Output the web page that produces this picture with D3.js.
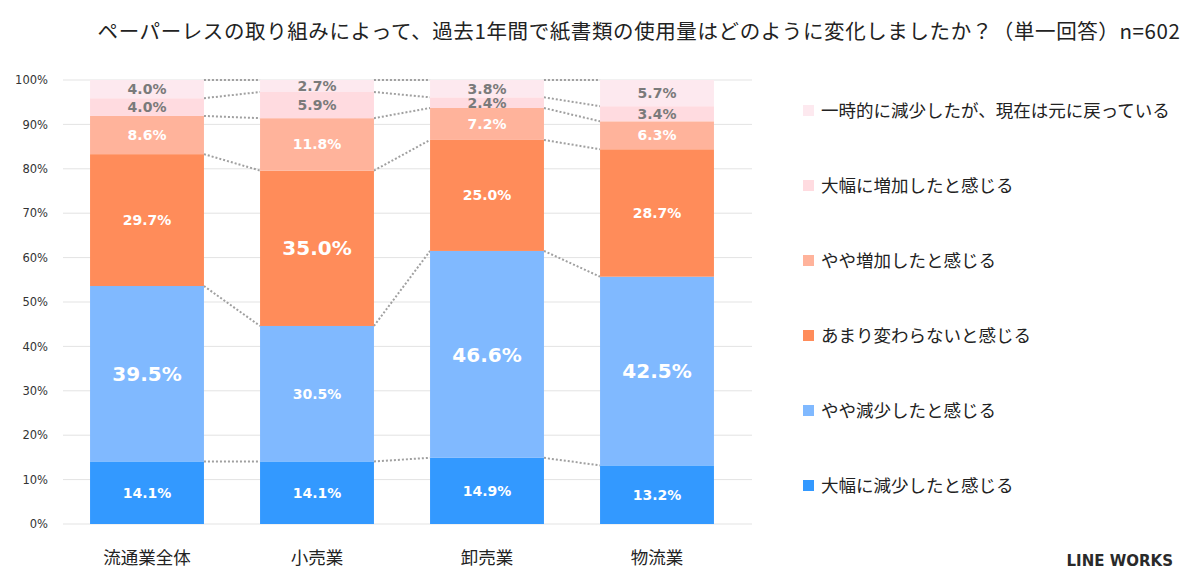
<!DOCTYPE html>
<html>
<head>
<meta charset="utf-8">
<script src="https://cdn.jsdelivr.net/npm/d3@7"></script>
<style>
	body { margin: 0; background: #fff; }
	svg { display: block; }
</style>
</head>
<body>
<div id="chart"></div>
<script>
var width = 1200,
	height = 572;

// data, bottom segment first
var categories = ["流通業全体", "小売業", "卸売業", "物流業"];
var seriesNames = [
	"大幅に減少したと感じる",
	"やや減少したと感じる",
	"あまり変わらないと感じる",
	"やや増加したと感じる",
	"大幅に増加したと感じる",
	"一時的に減少したが、現在は元に戻っている"
];
var daihabaGenshou = [14.1, 14.1, 14.9, 13.2];
var yayaGenshou = [39.5, 30.5, 46.6, 42.5];
var amariKawaranai = [29.7, 35.0, 25.0, 28.7];
var yayaZouka = [8.6, 11.8, 7.2, 6.3];
var daihabaZouka = [4.0, 5.9, 2.4, 3.4];
var ichijiteki = [4.0, 2.7, 3.8, 5.7];
var yTicks = [0, 10, 20, 30, 40, 50, 60, 70, 80, 90, 100];
var title = "ペーパーレスの取り組みによって、過去1年間で紙書類の使用量はどのように変化しましたか？（単一回答）n=602";

var colors = ["#3399ff", "#80b9ff", "#ff8c5a", "#ffb39b", "#ffdbe0", "#fde9ef"];
var values = [daihabaGenshou, yayaGenshou, amariKawaranai, yayaZouka, daihabaZouka, ichijiteki];

var jp = "'Noto Sans CJK JP', 'Noto Sans', sans-serif";
var num = "'DejaVu Sans', Verdana, sans-serif";

var svg = d3.select("#chart").append("svg")
	.attr("width", width)
	.attr("height", height);

var x = d3.scaleBand()
	.domain(categories)
	.range([62, 742])
	.paddingInner(0.33)
	.paddingOuter(0.165);

var y = d3.scaleLinear()
	.domain([0, 100])
	.range([524, 80]);

// stack: table of rows per category
var table = categories.map(function(c, i) {
	var row = { cat: c };
	seriesNames.forEach(function(s, j) { row[s] = values[j][i]; });
	return row;
});
var stacked = d3.stack().keys(seriesNames)(table);

// gridlines
svg.append("g")
	.selectAll("line")
	.data(yTicks)
	.enter().append("line")
	.attr("x1", 63)
	.attr("x2", 752)
	.attr("y1", function(d) { return y(d); })
	.attr("y2", function(d) { return y(d); })
	.attr("stroke", "#e3e3e3")
	.attr("stroke-width", 1);

// y axis labels
var yAxis = d3.axisLeft(y)
	.tickValues(yTicks)
	.tickFormat(function(d) { return d + "%"; })
	.tickSize(0)
	.tickPadding(0);
svg.append("g")
	.attr("transform", "translate(48,0)")
	.call(yAxis)
	.call(function(g) { g.select(".domain").remove(); })
	.selectAll("text")
	.attr("font-family", num)
	.attr("font-size", 11.5)
	.attr("fill", "#333");

// dotted connector lines between bars
var bw = x.bandwidth();
stacked.forEach(function(layer, j) {
	for (var i = 0; i < categories.length - 1; i++) {
		var top1 = j == stacked.length - 1 ? 100 : layer[i][1];
		var top2 = j == stacked.length - 1 ? 100 : layer[i + 1][1];
		svg.append("line")
			.attr("x1", x(categories[i]) + bw)
			.attr("x2", x(categories[i + 1]))
			.attr("y1", y(top1))
			.attr("y2", y(top2))
			.attr("stroke", "#a0a0a0")
			.attr("stroke-width", 2)
			.attr("stroke-dasharray", "2,2");
	}
});

// bars
var layers = svg.append("g")
	.selectAll("g")
	.data(stacked)
	.enter().append("g")
	.attr("fill", function(d, j) { return colors[j]; });

layers.selectAll("rect")
	.data(function(d) { return d; })
	.enter().append("rect")
	.attr("x", function(d) { return x(d.data.cat); })
	.attr("width", bw)
	.attr("y", function(d, i) {
		var top = this.parentNode.__data__.index == stacked.length - 1 ? 100 : d[1];
		return y(top);
	})
	.attr("height", function(d) {
		var top = this.parentNode.__data__.index == stacked.length - 1 ? 100 : d[1];
		return y(d[0]) - y(top);
	});

// value labels
stacked.forEach(function(layer, j) {
	layer.forEach(function(d, i) {
		var v = values[j][i];
		var maxV = d3.max(values, function(s) { return s[i]; });
		var big = v == maxV;
		var top = j == stacked.length - 1 ? 100 : d[1];
		svg.append("text")
			.attr("x", x(categories[i]) + bw / 2)
			.attr("y", (y(d[0]) + y(top)) / 2)
			.attr("dy", "0.36em")
			.attr("text-anchor", "middle")
			.attr("font-family", num)
			.attr("font-weight", "bold")
			.attr("font-size", big ? 20 : 14)
			.attr("fill", j >= 4 ? "#7a7a7a" : "#fff")
			.text(v.toFixed(1) + "%");
	});
});

// category labels
svg.append("g")
	.selectAll("text")
	.data(categories)
	.enter().append("text")
	.attr("x", function(d) { return x(d) + bw / 2; })
	.attr("y", 564)
	.attr("text-anchor", "middle")
	.attr("font-family", jp)
	.attr("font-size", 17.5)
	.attr("fill", "#222")
	.text(function(d) { return d; });

// legend, top entry first
var legendY = d3.scalePoint()
	.domain(seriesNames.slice().reverse())
	.range([111, 486]);

var legend = svg.append("g")
	.selectAll("g")
	.data(seriesNames)
	.enter().append("g")
	.attr("transform", function(d) { return "translate(803," + legendY(d) + ")"; });

legend.append("rect")
	.attr("x", 0)
	.attr("y", -6)
	.attr("width", 11)
	.attr("height", 11)
	.attr("fill", function(d, j) { return colors[j]; });

legend.append("text")
	.attr("x", 18)
	.attr("dy", "0.35em")
	.attr("font-family", jp)
	.attr("font-size", 17.5)
	.attr("fill", "#222")
	.text(function(d) { return d; });

// title
svg.append("text")
	.attr("x", 639)
	.attr("y", 39)
	.attr("text-anchor", "middle")
	.attr("font-family", jp)
	.attr("font-size", 20.5)
	.attr("letter-spacing", 0.6)
	.attr("fill", "#222")
	.text(title);

// logo
svg.append("text")
	.attr("x", 1173)
	.attr("y", 566)
	.attr("text-anchor", "end")
	.attr("font-family", "'DejaVu Sans', sans-serif")
	.attr("font-weight", "bold")
	.attr("font-size", 15)
	.attr("fill", "#2a2a2a")
	.text("LINE WORKS");
</script>
</body>
</html>
